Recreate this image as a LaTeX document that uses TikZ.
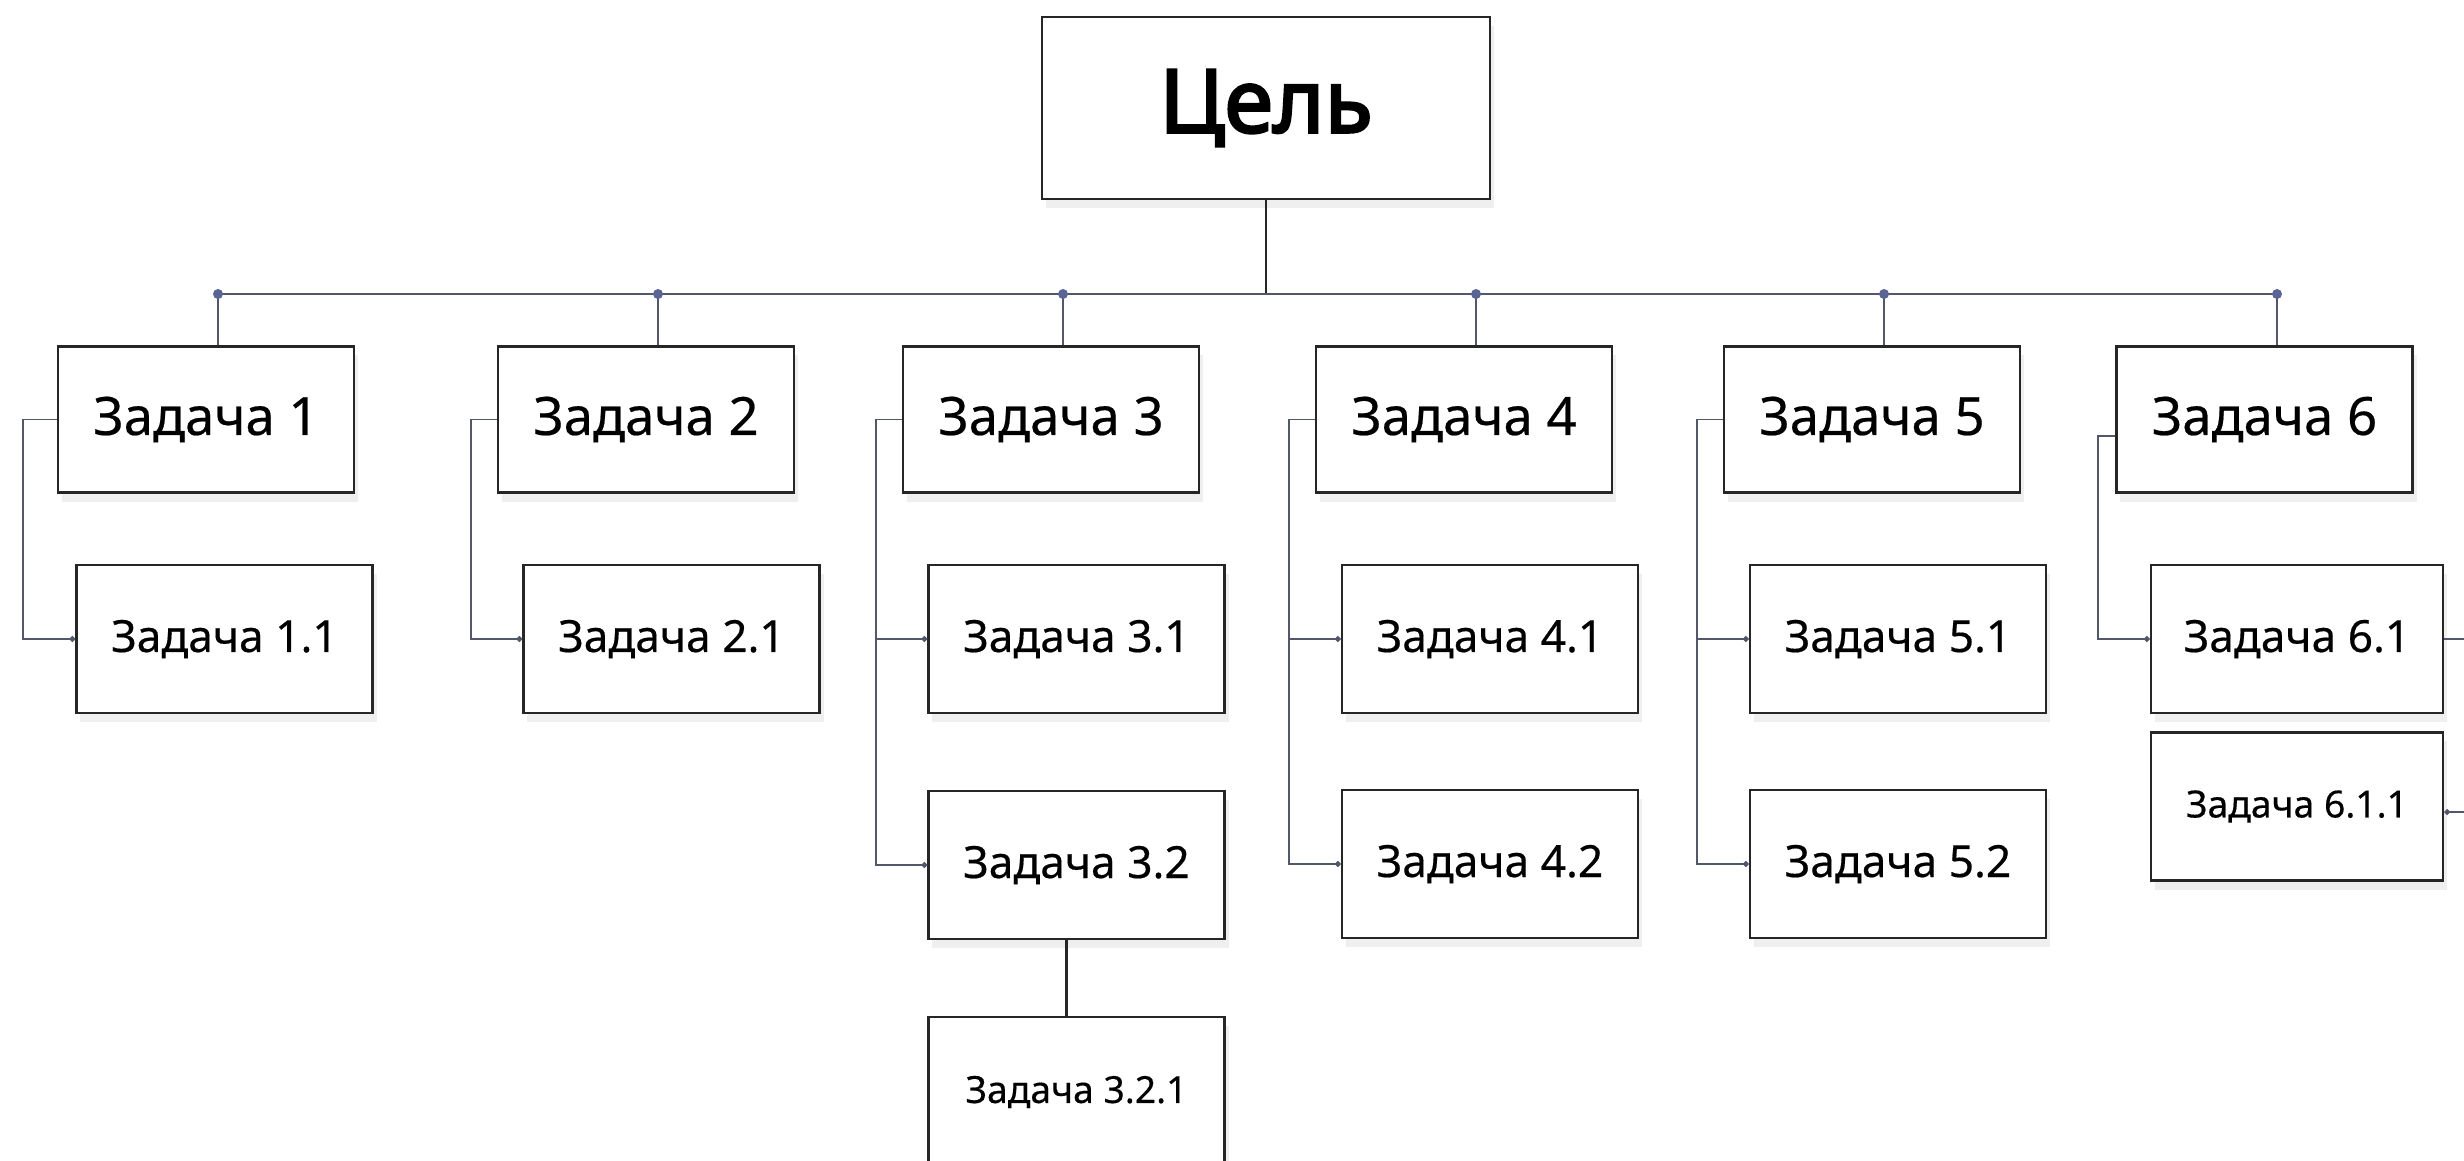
\documentclass[tikz,border=0pt]{standalone}
\usepackage{fontspec}
\setmainfont{Noto Sans}[FakeBold=0.4]
\newfontfamily\goalfont{Noto Sans}[FakeBold=3]
\usepackage{tikz}
\usetikzlibrary{positioning, shadows, arrows.meta}
\definecolor{linkgray}{HTML}{525869}
\definecolor{dotblue}{HTML}{5A6596}

\begin{document}
\begin{tikzpicture}[x=0.01cm, y=-0.01cm,
        box/.style={draw=black!85, line width=0.7pt, fill=white, inner sep=0pt,
            minimum width=2.96cm, minimum height=1.46cm,
            drop shadow={opacity=0.12, shadow xshift=0.04cm, shadow yshift=-0.09cm}},
        task/.style={box, font=\fontsize{15}{18}\selectfont},
        sub/.style={box, minimum height=1.48cm, font=\fontsize{12.6}{15}\selectfont},
        subsub/.style={box, minimum height=1.48cm, font=\fontsize{10.6}{13}\selectfont},
        link/.style={draw=linkgray, line width=0.5pt},
        tolink/.style={link, -{Circle[length=1.6pt]}},
        stem/.style={draw=black!85, line width=0.6pt}]
    \fill[white] (0,0) rectangle (2464,1160);
    \useasboundingbox (0,0) rectangle (2464,1160);

    % goal
    \node[box, minimum width=4.48cm, minimum height=1.82cm,
        font=\goalfont\fontsize{25}{30}\selectfont] (goal) at (1266,108) {Цель};

    % tasks
    \node[task] (t1) at (206,419.5) {Задача 1};
    \node[task] (t2) at (646,419.5) {Задача 2};
    \node[task] (t3) at (1051,419.5) {Задача 3};
    \node[task] (t4) at (1464,419.5) {Задача 4};
    \node[task] (t5) at (1872,419.5) {Задача 5};
    \node[task] (t6) at (2264.5,419.5) {Задача 6};

    % subtasks
    \node[sub] (t11) at (224.5,639) {Задача 1.1};
    \node[sub] (t21) at (671.5,639) {Задача 2.1};
    \node[sub] (t31) at (1076.5,639) {Задача 3.1};
    \node[sub] (t32) at (1076.5,865) {Задача 3.2};
    \node[sub] (t41) at (1490,639) {Задача 4.1};
    \node[sub] (t42) at (1490,864) {Задача 4.2};
    \node[sub] (t51) at (1898,639) {Задача 5.1};
    \node[sub] (t52) at (1898,864) {Задача 5.2};
    \node[sub, minimum width=2.92cm] (t61) at (2297,639) {Задача 6.1};
    \node[subsub, minimum width=2.92cm] (t611) at (2297,806.5) {Задача 6.1.1};
    \node[subsub, minimum height=1.5cm] (t321) at (1076.5,1092) {Задача 3.2.1};

    % bus
    \coordinate (d1) at (218,294);
    \coordinate (d2) at (658,294);
    \coordinate (d3) at (1063,294);
    \coordinate (d4) at (1476,294);
    \coordinate (d5) at (1884,294);
    \coordinate (d6) at (2277,294);
    \draw[stem] (goal.south) -- (goal.south |- d1);
    \draw[link] (d1) -- (d6);
    \foreach \i in {1,...,6} {
        \draw[link] (d\i) -- (d\i |- t\i.north);
        \fill[dotblue] (d\i) circle (0.05cm);
    }

    % links to subtasks
    \draw[tolink] (t1.west) -- ++(-34,0) |- (t11.west);
    \draw[tolink] (t2.west) -- ++(-26,0) |- (t21.west);
    \draw[tolink] (t3.west) -- ++(-26,0) |- (t31.west);
    \draw[tolink] (t3.west) -- ++(-26,0) |- (t32.west);
    \draw[tolink] (t4.west) -- ++(-26,0) |- (t41.west);
    \draw[tolink] (t4.west) -- ++(-26,0) |- (t42.west);
    \draw[tolink] (t5.west) -- ++(-26,0) |- (t51.west);
    \draw[tolink] (t5.west) -- ++(-26,0) |- (t52.west);
    \draw[tolink] ([yshift=-0.165cm]t6.west) -- ++(-17,0) |- (t61.west);
    \draw[tolink] (t61.east) -- ++(40,0) |- ([yshift=-0.055cm]t611.east);
    \draw[stem] ([xshift=-0.1cm]t32.south) -- ([xshift=-0.1cm]t32.south |- t321.north);
\end{tikzpicture}
\end{document}
